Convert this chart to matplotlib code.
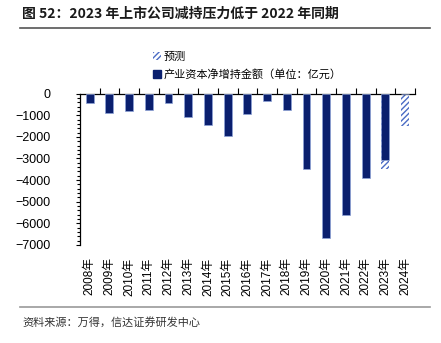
import matplotlib
matplotlib.use("Agg")
import matplotlib.pyplot as plt
from matplotlib.patches import Patch
from matplotlib.ticker import MultipleLocator

plt.rcParams['font.family'] = ['Liberation Sans', 'Noto Sans CJK SC', 'DejaVu Sans']
plt.rcParams['hatch.linewidth'] = 1.0

years = ["2008年", "2009年", "2010年", "2011年", "2012年", "2013年", "2014年", "2015年",
         "2016年", "2017年", "2018年", "2019年", "2020年", "2021年", "2022年", "2023年", "2024年"]
actual = [-430, -877, -815, -754, -430, -1077, -1430, -1938,
          -954, -323, -769, -3492, -6662, -5615, -3908, -3077, 0]
forecast = [0, 0, 0, 0, 0, 0, 0, 0,
            0, 0, 0, 0, 0, 0, 0, -3508, -1492]

navy = "#0A1F6E"
hatch_col = "#4A6BC4"

fig = plt.figure(figsize=(4.41, 3.43), dpi=100)
ax = fig.add_axes([0.181, 0.286, 0.760, 0.441])

x = list(range(len(years)))
width = 0.4
# forecast bars first so the actual values sit on top
fc = [f if f != 0 else float('nan') for f in forecast]
ax.bar(x, fc, width=width, color="white", edgecolor=hatch_col, hatch="//////",
       linewidth=0, label="预测", zorder=2)
ax.bar(x, actual, width=width, color=navy, edgecolor="#8EA3D8", linewidth=0.5,
       label="产业资本净增持金额（单位：亿元）", zorder=3)

ax.set_ylim(-7000, 0)
ax.set_xlim(-0.5, len(years) - 0.5)
ax.yaxis.set_major_locator(MultipleLocator(1000))
ax.yaxis.set_minor_locator(MultipleLocator(200))
ax.set_yticklabels([f"{int(v)}".replace("-", "\u2212") for v in ax.get_yticks()])
ax.tick_params(axis='y', which='major', length=3, width=0.8, labelsize=9, pad=18)
ax.tick_params(axis='y', which='minor', length=2, width=0.8)

for side in ("right", "bottom"):
    ax.spines[side].set_visible(False)
ax.spines['left'].set_linewidth(0.9)
ax.spines['top'].set_linewidth(0.9)

# category boundary ticks along the zero line
ax.set_xticks([i + 0.5 for i in x], minor=True)
ax.tick_params(axis='x', which='minor', top=True, bottom=False, direction='out', length=4, width=0.8)
ax.set_xticks(x)
ax.set_xticklabels(years, rotation=90, fontsize=8.5)
ax.tick_params(axis='x', which='major', length=0, pad=9)

handles = [
    Patch(facecolor="white", edgecolor=hatch_col, hatch="//////", linewidth=0),
    Patch(facecolor=navy, edgecolor=navy),
]
leg = ax.legend(handles, ["预测", "产业资本净增持金额（单位：亿元）"], loc="lower left",
                bbox_to_anchor=(0.195, 1.04), frameon=False,
                handlelength=0.7, handleheight=0.7, handletextpad=0.3, labelspacing=0.65,
                borderpad=0.2, prop={'family': ['Noto Sans CJK SC', 'DejaVu Sans'], 'size': 8})

fig.text(22 / 441, 1 - 14 / 343, "图 52：2023 年上市公司减持压力低于 2022 年同期",
         fontsize=10, fontweight="bold", color="#1a1a1a", va="center", ha="left",
         family=['Noto Sans CJK SC', 'DejaVu Sans'])
fig.add_artist(plt.Line2D([20 / 441, 430 / 441], [1 - 28 / 343, 1 - 28 / 343],
                          color="#555555", linewidth=1.2, transform=fig.transFigure))
fig.add_artist(plt.Line2D([20 / 441, 430 / 441], [1 - 306.5 / 343, 1 - 306.5 / 343],
                          color="#999999", linewidth=1.2, transform=fig.transFigure))
fig.text(22 / 441, 1 - 322 / 343, "资料来源：万得，信达证券研发中心", fontsize=8,
         color="#333333", va="center", ha="left", style="italic",
         family=['Noto Sans CJK SC', 'DejaVu Sans'])

fig.savefig("out.png", dpi=100)
